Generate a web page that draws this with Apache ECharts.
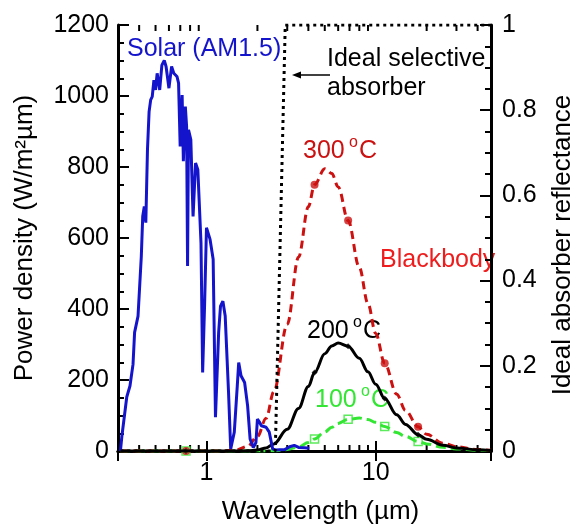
<!DOCTYPE html>
<html>
<head>
<meta charset="utf-8">
<script src="https://cdn.jsdelivr.net/npm/echarts@6/dist/echarts.min.js"></script>
<style>
html, body { margin: 0; padding: 0; background: #fff; }
#chart { width: 584px; height: 530px; }
</style>
</head>
<body>
<div id="chart"></div>
<script>
// AM1.5 solar spectrum, [wavelength um, W/m2/um]
const solar = [
  [0.31, 0], [0.316, 40], [0.338, 152], [0.353, 183], [0.368, 244], [0.376, 334], [0.394, 380],
  [0.412, 549], [0.420, 661], [0.429, 689], [0.438, 643], [0.448, 849], [0.458, 956],
  [0.468, 989], [0.478, 998], [0.489, 1045], [0.50, 1017], [0.511, 1064], [0.529, 1017],
  [0.545, 1087], [0.563, 1100], [0.577, 1083], [0.60, 1022], [0.622, 1083], [0.641, 1064],
  [0.669, 1055], [0.684, 1036], [0.699, 858], [0.718, 1003], [0.730, 816], [0.75, 970],
  [0.763, 914], [0.773, 521], [0.783, 905], [0.808, 877], [0.833, 661], [0.862, 811],
  [0.889, 792], [0.928, 586], [0.949, 221], [0.974, 408], [1.00, 629], [1.05, 596],
  [1.095, 540], [1.13, 95], [1.18, 334], [1.21, 408], [1.25, 422], [1.29, 380], [1.35, 165],
  [1.39, 6], [1.46, 53], [1.52, 183], [1.55, 249], [1.60, 212], [1.68, 193], [1.75, 127],
  [1.81, 34], [1.89, 10], [1.96, 24], [2.00, 90], [2.06, 81], [2.11, 71], [2.25, 67],
  [2.35, 53], [2.46, 6], [2.55, 3], [2.9, 4], [3.1, 12], [3.3, 16], [3.5, 10], [3.8, 9], [4.05, 8]
];

// blackbody curves
const bbWavelength = [0.31, 0.757, 1.25, 1.5, 1.75, 2, 2.25, 2.5, 3, 3.5, 4, 4.35, 5, 5.5, 6, 6.87, 8, 9, 10,
  11.3, 13.3, 15, 17.8, 20, 25, 30, 40, 48];
const bb300 = [0, 0, 0.2, 2.7, 13, 41, 92, 167, 357, 546, 688, 750, 795, 782, 744, 649, 517, 415, 331,
  247, 160, 114, 68, 47, 22, 12, 4.2, 2];
const bb200 = [0, 0, 0, 0.1, 0.6, 2.9, 8.7, 20, 61, 120, 182, 221, 274, 296, 304, 295, 261, 223, 188,
  148, 102, 75, 46, 33, 16, 8.8, 3.2, 1.6];
const bb100 = [0, 0, 0, 0, 0, 0.05, 0.2, 0.8, 4, 11.7, 23.7, 33.8, 53.5, 67, 77.8, 89.4, 92.7, 88.4, 80.7,
  69, 52, 41, 27, 20, 10.4, 5.9, 2.3, 1.1];
const markerIdx = [1, 11, 15, 19, 22];

// ideal selective absorber reflectance (right axis)
const idealWavelength = [0.31, 2.55, 2.92, 48];
const idealReflect = [0, 0, 1, 1];

const xMinorTicks = [0.4, 0.5, 0.6, 0.7, 0.8, 0.9, 2, 3, 4, 5, 6, 7, 8, 9, 20, 30, 40];

const FONT = 'Liberation Sans, Arial, sans-serif';
const BLUE = '#1414CC';
const RED = '#CC1111';
const RED2 = '#EE1C1C';
const GREEN = '#33E633';

const pairs = (xs, ys) => xs.map((x, i) => [x, ys[i]]);
const marks = (ys) => markerIdx.map(i => [bbWavelength[i], ys[i]]);

function degLabel(x, y, num, color) {
  return [
    { type: 'text', x: x, y: y, style: { text: num, font: '25px ' + FONT, fill: color, verticalAlign: 'middle' } },
    { type: 'text', x: x + 46, y: y - 8, style: { text: 'o', font: '16px ' + FONT, fill: color, verticalAlign: 'middle' } },
    { type: 'text', x: x + 56, y: y, style: { text: 'C', font: '25px ' + FONT, fill: color, verticalAlign: 'middle' } }
  ];
}

const chart = echarts.init(document.getElementById('chart'));

const logLabel = v => (Math.abs(v - 1) < 1e-6 ? '1' : Math.abs(v - 10) < 1e-6 ? '10' : '');

const option = {
  animation: false,
  textStyle: { fontFamily: FONT },
  grid: { left: 118, right: 81, top: 25, bottom: 78 },
  xAxis: [
    {
      type: 'log', min: 0.3, max: 48,
      name: 'Wavelength (\u00b5m)', nameLocation: 'middle', nameGap: 48,
      nameTextStyle: { fontSize: 26, color: '#000', padding: [0, 0, 0, 32] },
      axisLine: { lineStyle: { color: '#000', width: 3 } },
      axisTick: { inside: true, length: 10, lineStyle: { width: 2, color: '#000' } },
      axisLabel: { fontSize: 25, color: '#000', margin: 10, formatter: logLabel },
      splitLine: { show: false }
    },
    {
      type: 'log', min: 0.3, max: 48, position: 'top',
      axisLine: { lineStyle: { color: '#000', width: 3 } },
      axisTick: { inside: true, length: 10, lineStyle: { width: 2, color: '#000' } },
      axisLabel: { show: false },
      splitLine: { show: false }
    }
  ],
  yAxis: [
    {
      type: 'value', min: 0, max: 1200, interval: 200,
      name: 'Power density (W/m\u00b2\u00b5m)', nameLocation: 'middle', nameGap: 80, nameRotate: 90,
      nameTextStyle: { fontSize: 26, color: '#000' },
      axisLine: { show: true, lineStyle: { color: '#000', width: 3 } },
      axisTick: { inside: true, length: 11, lineStyle: { width: 2, color: '#000' } },
      minorTick: { show: true, splitNumber: 4, length: 6, lineStyle: { width: 2, color: '#000' } },
      axisLabel: { fontSize: 25, color: '#000', margin: 9, formatter: v => String(v) },
      splitLine: { show: false }
    },
    {
      type: 'value', min: 0, max: 1, interval: 0.2, position: 'right',
      name: 'Ideal absorber reflectance', nameLocation: 'middle', nameGap: 59, nameRotate: 90,
      nameTextStyle: { fontSize: 26, color: '#000', padding: [0, 14, 0, 0] },
      axisLine: { show: true, lineStyle: { color: '#000', width: 3 } },
      axisTick: { inside: true, length: 11, lineStyle: { width: 2, color: '#000' } },
      minorTick: { show: true, splitNumber: 4, length: 6, lineStyle: { width: 2, color: '#000' } },
      axisLabel: { fontSize: 25, color: '#000', margin: 11, formatter: v => String(v) },
      splitLine: { show: false }
    }
  ],
  series: [
    {
      type: 'custom', silent: true, xAxisIndex: 0, yAxisIndex: 0,
      data: xMinorTicks.map(v => [v, 0]),
      renderItem: (params, api) => {
        const v = api.value(0);
        const b = api.coord([v, 0]);
        const t = api.coord([v, 1200]);
        const st = { stroke: '#000', lineWidth: 2 };
        return {
          type: 'group', children: [
            { type: 'line', shape: { x1: b[0], y1: b[1], x2: b[0], y2: b[1] - 6 }, style: st },
            { type: 'line', shape: { x1: t[0], y1: t[1], x2: t[0], y2: t[1] + 6 }, style: st }
          ]
        };
      }
    },
    {
      name: '100', type: 'line', data: pairs(bbWavelength, bb100), showSymbol: false,
      smooth: 0.35, smoothMonotone: 'x',
      lineStyle: { color: GREEN, width: 3, type: [10, 5] }
    },
    {
      type: 'scatter', data: marks(bb100), symbol: 'rect', symbolSize: 8,
      itemStyle: { color: '#fff', borderColor: GREEN, borderWidth: 1.5 }
    },
    {
      name: '300', type: 'line', data: pairs(bbWavelength, bb300), showSymbol: false,
      smooth: 0.35, smoothMonotone: 'x',
      lineStyle: { color: RED, width: 3, type: [8, 5] }
    },
    {
      type: 'scatter', data: marks(bb300), symbol: 'circle', symbolSize: 8,
      itemStyle: { color: RED }
    },
    {
      name: '200', type: 'line', data: pairs(bbWavelength, bb200), showSymbol: false,
      smooth: 0.35, smoothMonotone: 'x',
      lineStyle: { color: '#000', width: 3 }
    },
    {
      type: 'scatter', data: marks(bb200), symbol: 'diamond', symbolSize: 6,
      itemStyle: { color: '#000' }
    },
    {
      name: 'Solar', type: 'line', data: solar, showSymbol: false,
      lineStyle: { color: BLUE, width: 3 }
    },
    {
      name: 'Ideal', type: 'line', yAxisIndex: 1, data: pairs(idealWavelength, idealReflect), showSymbol: false,
      lineStyle: { color: '#000', width: 3, type: [3, 4] }
    }
  ],
  graphic: [
    { type: 'text', x: 127, y: 49, style: { text: 'Solar (AM1.5)', font: '25px ' + FONT, fill: BLUE, verticalAlign: 'middle' } },
    { type: 'text', x: 327, y: 59, style: { text: 'Ideal selective', font: '25px ' + FONT, fill: '#000', verticalAlign: 'middle' } },
    { type: 'text', x: 327, y: 88, style: { text: 'absorber', font: '25px ' + FONT, fill: '#000', verticalAlign: 'middle' } },
    { type: 'line', shape: { x1: 330, y1: 75, x2: 298, y2: 75 }, style: { stroke: '#000', lineWidth: 1.5 } },
    { type: 'polygon', shape: { points: [[292, 75], [301, 71.5], [301, 78.5]] }, style: { fill: '#000' } },
    { type: 'text', x: 380, y: 260, style: { text: 'Blackbody', font: '25px ' + FONT, fill: RED2, verticalAlign: 'middle' } }
  ].concat(degLabel(303, 151, '300', RED), degLabel(307, 331, '200', '#000'), degLabel(315, 400, '100', GREEN))
};

chart.setOption(option);
</script>
</body>
</html>
